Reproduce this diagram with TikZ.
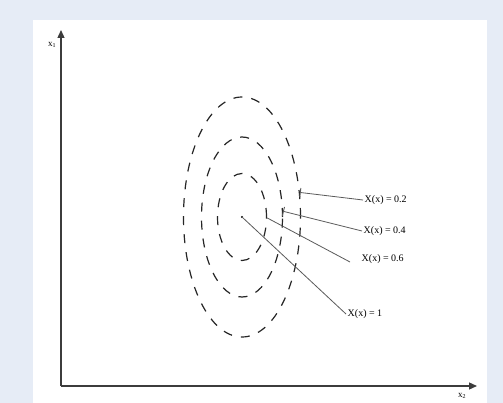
\documentclass[tikz,border=0pt]{standalone}
\usepackage{fontspec}
\setmainfont{Liberation Serif}
\usetikzlibrary{arrows.meta,shapes.geometric}
\definecolor{pagebg}{RGB}{230,236,246}
\definecolor{axisgray}{RGB}{60,60,60}
\definecolor{leadgray}{RGB}{90,90,90}
\tikzset{
  axisline/.style={draw=axisgray,line width=1.3pt,-{Triangle[length=8pt,width=7pt]},black},
  contour/.style={ellipse,draw=black!85,line width=1.2pt,dash pattern=on 9pt off 9pt,inner sep=0pt,fill=none},
  leader/.style={draw=leadgray,line width=0.8pt},
  barleader/.style={leader,{Bar[width=9pt,line width=0.9pt]}-},
  lbl/.style={font=\fontsize{10}{12}\selectfont,inner sep=1.5pt,anchor=west},
  axlbl/.style={font=\fontsize{9}{10}\selectfont,inner sep=0pt}
}
\begin{document}
\begin{tikzpicture}[x=1pt,y=-1pt]
  % page and panel
  \fill[pagebg] (0,0) rectangle (503,403);
  \fill[white] (33,20) rectangle (487,403);
  \useasboundingbox (0,0) rectangle (503,403);

  % axes
  \coordinate (O) at (61,386);
  \coordinate (ytop) at (61,30);
  \coordinate (xend) at (477,386);
  \draw[axisline,draw=axisgray] (O) -- (ytop);
  \draw[axisline,draw=axisgray] (O) -- (xend);
  \node[axlbl] (x1) at (52,45) {x\textsubscript{1}};
  \node[axlbl] (x2) at (462,396) {x\textsubscript{2}};

  % contour ellipses
  \node[contour,minimum width=117pt,minimum height=240pt] (outer) at (242,217) {};
  \node[contour,minimum width=81pt,minimum height=160pt] (middle) at (242,217) {};
  \node[contour,minimum width=49pt,minimum height=87pt] (inner) at (242,217) {};
  \fill[black] (242,217) circle (1.1pt);
  \coordinate (peak) at (242,217);

  % labels
  \node[lbl] (l02) at (363,200) {X(x) = 0.2};
  \node[lbl] (l04) at (362,231) {X(x) = 0.4};
  \node[lbl] (l06) at (360,259) {X(x) = 0.6};
  \node[lbl] (l1)  at (346,314) {X(x) = 1};
  \coordinate (e06) at (350,262);

  % leader lines
  \draw[barleader] (outer.23) -- (l02.west);
  \draw[barleader] (middle.8) -- (l04.west);
  \draw[leader] (inner.-2) -- (e06);
  \draw[leader] (peak) -- (l1.west);
\end{tikzpicture}
\end{document}
